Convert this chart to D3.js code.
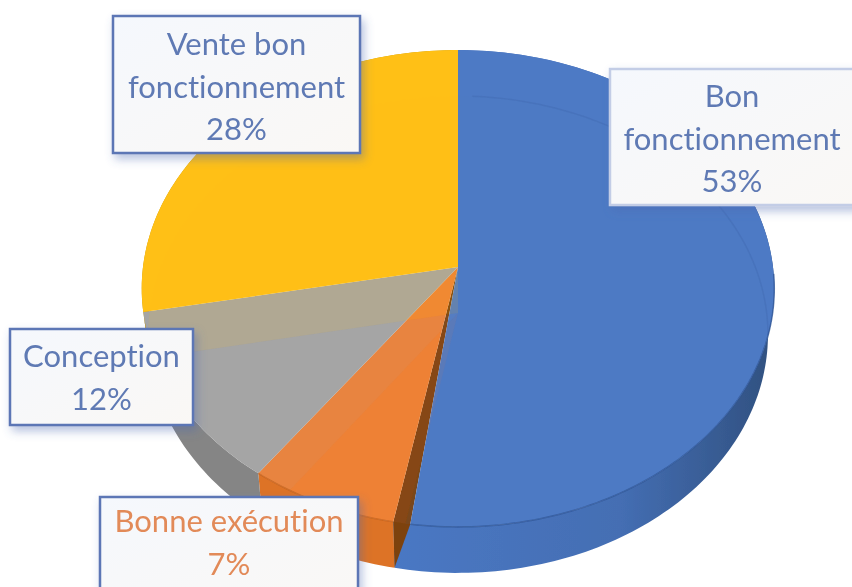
<!DOCTYPE html>
<html>
<head>
<meta charset="utf-8">
<script src="https://cdn.jsdelivr.net/npm/d3@7"></script>
<style>
  html, body { margin: 0; background: #fff; overflow: hidden; }
  text { font-family: Lato, "Open Sans", sans-serif; font-variant-ligatures: none; }
</style>
</head>
<body>
<div id="chart"></div>
<script>
const categories = ["Bon fonctionnement", "Bonne exécution", "Conception", "Vente bon fonctionnement"]
const shares = [53, 7, 12, 28]
const labelLines = [["Bon", "fonctionnement", "53%"], ["Bonne exécution", "7%"], ["Conception", "12%"], ["Vente bon", "fonctionnement", "28%"]]
const topColors = ["#4e7ac5", "#ee8237", "#a5a5a5", "#ffc014"]
const sideColors = ["#4570b6", "#dd7327", "#858585", "#c99a12"]
const textColors = ["#5f7ab4", "#e28a58", "#5f7ab4", "#5f7ab4"]

const width = 852
const height = 587

// the tilted pie is a circle seen in perspective: apex is not the middle of the ellipse
const cx = 458, cy = 267
const sx = 315, sy = 236.5, tilt = 0.09
const depth = 46
const lowerScale = 0.98   // lower face sits further back so it is a bit narrower
const gap = 0.05   // brown wall showing between orange and blue

function project(a, drop) {
  const u = Math.sin(a), v = -Math.cos(a)
  const w = 1 - tilt * v
  const k = drop ? lowerScale : 1
  return [cx + k * sx * u / w, cy + sy * v / w + drop]
}

function arcPoints(a0, a1, drop) {
  const n = Math.max(2, Math.ceil(Math.abs(a1 - a0) / 0.02))
  return d3.range(n + 1).map(i => project(a0 + (a1 - a0) * i / n, drop))
}

const line = d3.line()
const closed = pts => line(pts) + "Z"

const slices = d3.pie().sort(null).value(d => d)(shares)

const svg = d3.select("#chart").append("svg")
  .attr("width", width)
  .attr("height", height)
  .style("display", "block")

const defs = svg.append("defs")
const soft = defs.append("filter").attr("id", "soft")
soft.append("feGaussianBlur").attr("stdDeviation", 0.55)
const pieSoft = defs.append("filter").attr("id", "pieSoft")
pieSoft.append("feGaussianBlur").attr("stdDeviation", 0.6)
const shadow = defs.append("filter").attr("id", "shadow")
  .attr("x", "-10%").attr("y", "-10%").attr("width", "125%").attr("height", "130%")
shadow.append("feDropShadow").attr("dx", 3).attr("dy", 5).attr("stdDeviation", 5)
  .attr("flood-color", "#4a68b0").attr("flood-opacity", 0.4)

const boxFill = defs.append("linearGradient").attr("id", "boxFill")
  .attr("x1", 0).attr("y1", 0).attr("x2", 1).attr("y2", 1)
boxFill.append("stop").attr("offset", "0%").attr("stop-color", "#f5f8fd")
boxFill.append("stop").attr("offset", "100%").attr("stop-color", "#faf8f5")

const sideShade = defs.append("linearGradient").attr("id", "sideShade")
  .attr("gradientUnits", "userSpaceOnUse")
  .attr("x1", 390).attr("y1", 0).attr("x2", 775).attr("y2", 0)
sideShade.append("stop").attr("offset", "0%").attr("stop-color", "#4a78c4")
sideShade.append("stop").attr("offset", "60%").attr("stop-color", "#446eb3")
sideShade.append("stop").attr("offset", "100%").attr("stop-color", "#30507f")

defs.append("clipPath").attr("id", "topClip").append("path")
  .attr("d", closed(arcPoints(0, 2 * Math.PI, 0)))

const pie = svg.append("g").attr("filter", "url(#pieSoft)")

// sides first, the top faces cover whatever is behind
pie.selectAll(".side")
  .data(slices)
  .enter()
  .append("path")
  .attr("class", "side")
  .attr("fill", (d, i) => i == 0 ? "url(#sideShade)" : sideColors[i])
  .attr("d", d => closed(arcPoints(d.startAngle, d.endAngle, 0)
    .concat(arcPoints(d.endAngle, d.startAngle, depth))))

const blue = slices[0]
pie.append("path")
  .attr("fill", "#7d4310")
  .attr("d", closed([[cx, cy], project(blue.endAngle, 0), project(blue.endAngle, depth), project(blue.endAngle - gap, 0)]))

pie.selectAll(".top")
  .data(slices)
  .enter()
  .append("path")
  .attr("class", "top")
  .attr("fill", (d, i) => topColors[i])
  .attr("d", (d, i) => closed([[cx, cy]].concat(arcPoints(d.startAngle, i == 0 ? d.endAngle - gap : d.endAngle, 0))))

// the lower face shows faintly through the top
const ghost = pie.append("g").attr("clip-path", "url(#topClip)")
ghost.selectAll("path")
  .data(slices)
  .enter()
  .append("path")
  .attr("fill", (d, i) => topColors[i])
  .attr("fill-opacity", (d, i) => i == 3 ? 0.12 : 0.08)
  .attr("d", d => closed([[cx, cy + depth]].concat(arcPoints(d.startAngle, d.endAngle, depth))))

ghost.append("path")
  .attr("fill", "none")
  .attr("stroke", "#3d64a8")
  .attr("stroke-opacity", 0.3)
  .attr("stroke-width", 1.5)
  .attr("d", line(arcPoints(0.05, blue.endAngle, depth)))

// rim line along the front edge of the top
pie.selectAll(".edge")
  .data(slices.slice(0, 2))
  .enter()
  .append("path")
  .attr("class", "edge")
  .attr("fill", "none")
  .attr("stroke", (d, i) => i == 0 ? "#2f5597" : "#c4621c")
  .attr("stroke-width", 1.5)
  .attr("stroke-opacity", 0.75)
  .attr("d", (d, i) => line(i == 0 ? arcPoints(1.6, d.endAngle - gap, 0) : arcPoints(d.startAngle, d.endAngle, 0)))

// label boxes, same order as the categories
const boxes = [
  {x: 610, y: 69, w: 250, h: 136, first: 107, border: "#c3cde6"},
  {x: 100, y: 497, w: 258, h: 110, first: 532, border: "#5b76b5"},
  {x: 10, y: 329, w: 183, h: 96, first: 367, border: "#5b76b5"},
  {x: 113, y: 16, w: 247, h: 137, first: 55, border: "#5b76b5"}
]
const lineStep = 42.5

const label = svg.selectAll(".label")
  .data(categories)
  .enter()
  .append("g")
  .attr("class", "label")

label.append("rect")
  .attr("x", (d, i) => boxes[i].x)
  .attr("y", (d, i) => boxes[i].y)
  .attr("width", (d, i) => boxes[i].w)
  .attr("height", (d, i) => boxes[i].h)
  .attr("fill", "url(#boxFill)")
  .attr("stroke", (d, i) => boxes[i].border)
  .attr("stroke-width", 2.5)
  .attr("filter", "url(#shadow)")

label.append("text")
  .attr("text-anchor", "middle")
  .attr("font-size", 31)
  .attr("filter", "url(#soft)")
  .attr("fill", (d, i) => textColors[i])
  .each(function(d, i) {
    const b = boxes[i]
    const mid = i == 0 ? 732 : b.x + b.w / 2
    d3.select(this).selectAll("tspan")
      .data(labelLines[i])
      .enter()
      .append("tspan")
      .attr("x", mid)
      .attr("y", (t, j) => b.first + j * lineStep)
      .text(t => t)
  })
</script>
</body>
</html>
